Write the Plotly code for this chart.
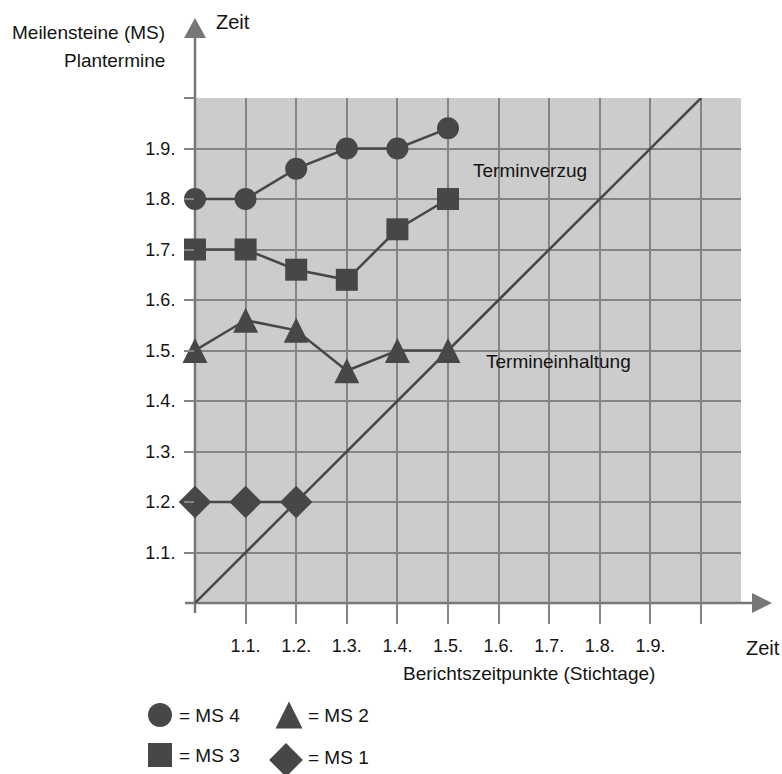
import plotly.graph_objects as go

# ---------------- data ----------------
x_dates = [1.0, 1.1, 1.2, 1.3, 1.4, 1.5]
ms4 = [1.80, 1.80, 1.86, 1.90, 1.90, 1.94]
ms3 = [1.70, 1.70, 1.66, 1.64, 1.74, 1.80]
ms2 = [1.50, 1.56, 1.54, 1.46, 1.50, 1.50]
ms1_x = [1.0, 1.1, 1.2]
ms1 = [1.20, 1.20, 1.20]
diag_x = [1.0, 2.0]
diag_y = [1.0, 2.0]

tick_vals = [1.1, 1.2, 1.3, 1.4, 1.5, 1.6, 1.7, 1.8, 1.9, 2.0]
tick_text = ["1.1.", "1.2.", "1.3.", "1.4.", "1.5.", "1.6.", "1.7.", "1.8.", "1.9.", ""]

legend_labels = ["= MS 4", "= MS 2", "= MS 3", "= MS 1"]

# ---------------- layout geometry (pixels) ----------------
W, H = 782, 774
PL, PR, PT, PB = 195, 741, 98, 603      # plot box
X1PX = 701                               # pixel of x = 2.0
x_range = [1.0, 1.0 + (PR - PL) / (X1PX - PL)]
y_range = [1.0, 2.0]
LEG_TOP = 674                            # legend strip (own pixel-scaled axes)
LEG_RIGHT = 391

DARK = "#474747"
AX = "#777777"
GRID = "#848484"
BG = "#cccccc"
FONT = "Liberation Sans, Arial, sans-serif"
TXT = "#141414"


def fx(px):
    return (px - PL) / (PR - PL)


def fy(py):
    return (PB - py) / (PB - PT)


def tri_marker(size):
    return dict(symbol="arrow-down", angle=180, standoff=size / 2, size=size, color=DARK)


fig = go.Figure()

# diagonal reference line
fig.add_trace(go.Scatter(x=diag_x, y=diag_y, mode="lines",
                         line=dict(color=DARK, width=2.5), cliponaxis=False,
                         hoverinfo="skip"))

# series
fig.add_trace(go.Scatter(x=x_dates, y=ms4, mode="lines+markers", cliponaxis=False,
                         line=dict(color=DARK, width=2.5),
                         marker=dict(symbol="circle", size=22, color=DARK)))
fig.add_trace(go.Scatter(x=x_dates, y=ms3, mode="lines+markers", cliponaxis=False,
                         line=dict(color=DARK, width=2.5),
                         marker=dict(symbol="square", size=22, color=DARK)))
fig.add_trace(go.Scatter(x=x_dates, y=ms2, mode="lines", cliponaxis=False,
                         line=dict(color=DARK, width=2.5)))
fig.add_trace(go.Scatter(x=x_dates, y=ms2, mode="markers", cliponaxis=False,
                         marker=tri_marker(25)))
fig.add_trace(go.Scatter(x=ms1_x, y=ms1, mode="lines+markers", cliponaxis=False,
                         line=dict(color=DARK, width=2.5),
                         marker=dict(symbol="diamond", size=25, color=DARK)))

# legend key on its own pixel-scaled axes
fig.add_trace(go.Scatter(x=[160, 160], y=[715, 755], mode="markers", cliponaxis=False,
                         xaxis="x2", yaxis="y2",
                         marker=dict(symbol=["circle", "square"], size=24, color=DARK)))
fig.add_trace(go.Scatter(x=[289], y=[715], mode="markers", cliponaxis=False,
                         xaxis="x2", yaxis="y2", marker=tri_marker(27)))
fig.add_trace(go.Scatter(x=[286], y=[760], mode="markers", cliponaxis=False,
                         xaxis="x2", yaxis="y2",
                         marker=dict(symbol="diamond", size=26, color=DARK)))

shapes = [
    # grey plot background
    dict(type="rect", xref="x domain", yref="y domain", x0=0, x1=1, y0=0, y1=1,
         fillcolor=BG, line=dict(width=0), layer="below"),
    # y axis line + arrow
    dict(type="line", xref="x domain", yref="y domain", x0=0, x1=0, y0=fy(613), y1=fy(37),
         line=dict(color=AX, width=2.5), layer="below"),
    dict(type="path", xref="x domain", yref="y domain",
         path=f"M{fx(184)},{fy(38)} L{fx(195)},{fy(18)} L{fx(206)},{fy(38)} Z",
         fillcolor=AX, line=dict(width=0), layer="below"),
    # x axis line + arrow
    dict(type="line", xref="x domain", yref="y domain", x0=fx(185), x1=fx(753), y0=0, y1=0,
         line=dict(color=AX, width=2.5), layer="below"),
    dict(type="path", xref="x domain", yref="y domain",
         path=f"M{fx(752)},{fy(593)} L{fx(772)},{fy(603)} L{fx(752)},{fy(613)} Z",
         fillcolor=AX, line=dict(width=0), layer="below"),
]


def ann(text, px, py, anchor="left", size=19):
    return dict(text=text, xref="paper", yref="paper", x=px / W, y=1 - py / H,
                xanchor=anchor, yanchor="middle", showarrow=False,
                font=dict(family=FONT, size=size, color=TXT))


annotations = [
    ann("Zeit", 214, 22, size=20),
    ann("Meilensteine (MS)", 167, 33, anchor="right"),
    ann("Plantermine", 167, 60, anchor="right"),
    ann("Zeit", 744, 648, size=20),
    ann("Berichtszeitpunkte (Stichtage)", 401, 673),
    ann("Terminverzug", 471, 170),
    ann("Termineinhaltung", 484, 361),
    ann(legend_labels[0], 177, 715),
    ann(legend_labels[1], 306, 715),
    ann(legend_labels[2], 177, 755),
    ann(legend_labels[3], 306, 757),
]

axis_common = dict(showgrid=True, gridcolor=GRID, gridwidth=1.5, zeroline=False,
                   showline=False, ticks="outside", tickcolor=GRID, tickwidth=1.5,
                   tickvals=tick_vals, ticktext=tick_text, fixedrange=True,
                   tickfont=dict(family=FONT, size=18, color=TXT))

fig.update_layout(
    width=W, height=H,
    margin=dict(l=0, r=0, t=0, b=0, pad=0),
    paper_bgcolor="white",
    plot_bgcolor="rgba(0,0,0,0)",
    showlegend=False,
    xaxis=dict(domain=[PL / W, PR / W], range=x_range, ticklen=20,
               ticklabelstandoff=6, **axis_common),
    yaxis=dict(domain=[(H - PB) / H, (H - PT) / H], range=y_range, ticklen=10,
               ticklabelstandoff=5, **axis_common),
    xaxis2=dict(domain=[0, LEG_RIGHT / W], range=[0, LEG_RIGHT], visible=False,
                fixedrange=True, anchor="y2"),
    yaxis2=dict(domain=[0, (H - LEG_TOP) / H], range=[H, LEG_TOP], visible=False,
                fixedrange=True, anchor="x2"),
    shapes=shapes,
    annotations=annotations,
)

fig.write_html("out.html")
